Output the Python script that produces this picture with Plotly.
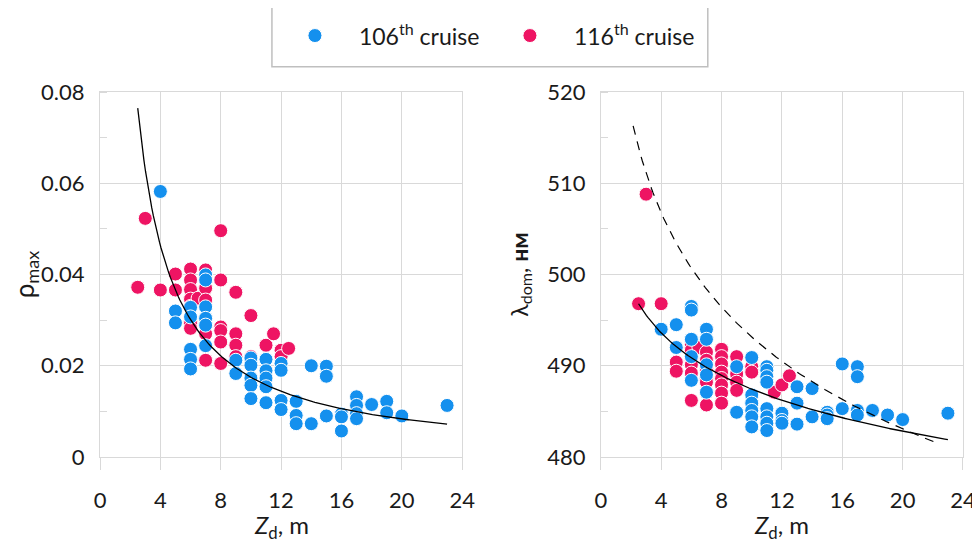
import numpy as np
import plotly.graph_objects as go

# ---------------- data ----------------
# Left panel: rho_max vs Zd
rho106_z = [4, 5, 5, 6, 6, 6, 6, 6, 7, 7, 7, 7, 7, 7, 9, 9, 10, 10, 10, 10, 10,
            11, 11, 11, 11, 11, 12, 12, 12, 12, 13, 13, 13, 14, 14, 15, 15, 15,
            16, 16, 16, 17, 17, 17, 17, 18, 19, 19, 20, 23]
rho106_v = [0.0582, 0.0320, 0.0294, 0.0328, 0.0307, 0.0236, 0.0214, 0.0193,
            0.0399, 0.0388, 0.0329, 0.0304, 0.0289, 0.0244, 0.0212, 0.0183,
            0.0217, 0.0201, 0.0173, 0.0157, 0.0128, 0.0214, 0.0189, 0.0173,
            0.0154, 0.0119, 0.0205, 0.0190, 0.0124, 0.0104, 0.0122, 0.0091,
            0.0073, 0.0200, 0.0073, 0.0199, 0.0177, 0.0090, 0.0094, 0.0088,
            0.0057, 0.0132, 0.0113, 0.0095, 0.0084, 0.0115, 0.0122, 0.0097,
            0.0090, 0.0113]
rho116_z = [2.5, 3, 4, 5, 5, 6, 6, 6, 6, 6, 6, 6, 6.5, 7, 7, 7, 7, 7, 7,
            8, 8, 8, 8, 8, 8, 9, 9, 9, 9, 10, 10, 11, 11.5, 12, 12, 12.5]
rho116_v = [0.0372, 0.0523, 0.0366, 0.0401, 0.0366, 0.0412, 0.0388, 0.0367,
            0.0346, 0.0330, 0.0293, 0.0282, 0.0348, 0.0410, 0.0388, 0.0370,
            0.0344, 0.0270, 0.0212, 0.0496, 0.0388, 0.0285, 0.0277, 0.0252,
            0.0205, 0.0361, 0.0270, 0.0245, 0.0220, 0.0310, 0.0220, 0.0245,
            0.0270, 0.0234, 0.0220, 0.0238]

# Right panel: lambda_dom vs Zd
lam106_z = [4, 5, 5, 6, 6, 6, 6, 6, 7, 7, 7, 7, 7, 9, 9, 10, 10, 10, 10, 10, 10,
            11, 11, 11, 11, 11, 11, 11, 11, 12, 12, 12, 13, 13, 13, 14, 14,
            15, 15, 15, 16, 16, 17, 17, 17, 17, 18, 19, 20, 23]
lam106_v = [494.0, 494.5, 492.0, 496.5, 496.1, 492.9, 491.0, 488.4, 494.0,
            492.9, 490.1, 489.0, 487.1, 489.9, 484.9, 490.9, 486.8, 485.9,
            485.1, 484.4, 483.3, 489.9, 489.5, 488.8, 488.2, 485.3, 484.4,
            483.7, 482.9, 484.8, 484.0, 483.7, 487.7, 485.9, 483.6, 487.5,
            484.4, 484.9, 484.6, 484.2, 490.2, 485.3, 489.9, 488.8, 485.1,
            484.6, 485.1, 484.6, 484.1, 484.8]
lam116_z = [2.5, 3, 4, 5, 5, 6, 6, 6, 6, 6, 6, 6.5, 7, 7, 7, 7, 7, 7,
            8, 8, 8, 8, 8, 8, 8, 8, 9, 9, 9, 9, 10, 10, 11.5, 12, 12.5]
lam116_v = [496.8, 508.8, 496.8, 490.4, 489.4, 492.3, 491.7, 490.8, 490.1,
            489.2, 486.2, 492.0, 491.5, 490.6, 489.5, 488.6, 488.2, 485.7,
            491.8, 491.0, 490.2, 489.3, 488.6, 487.9, 487.0, 485.9, 491.0,
            489.1, 488.2, 487.3, 489.9, 489.3, 487.1, 487.9, 488.9]

# Trend lines (power fits y = a * x^b)
fit_rho = dict(a=0.2029, b=-1.065, x0=2.5, x1=23)
fit_lam = dict(a=503.08, b=-0.01372, x0=2.5, x1=23)
fit_lam_dash = dict(a=528.1, b=-0.02974, x0=2.14, x1=22.4)

x_ticks = [0, 4, 8, 12, 16, 20, 24]
rho_ticks = [0, 0.02, 0.04, 0.06, 0.08]
rho_ticktext = ["0", "0.02", "0.04", "0.06", "0.08"]
lam_ticks = [480, 490, 500, 510, 520]

names = ["106<sup>th</sup> cruise", "116<sup>th</sup> cruise"]
x_title = "<i>Z</i><sub>d</sub>, m"

# ---------------- style ----------------
BLUE = "#1490EE"
PINK = "#EE1463"
GRID = "#d9d9d9"
FONT = "Lato"
TXT = "#1a1a1a"

OFF = 8  # page body margin in the browser
W, H = 980 - 2 * OFF, 551 - 2 * OFF
# plot-area edges in reference (page) pixels
L1, R1, L2, R2, TOP, BOT = 100, 462.3, 601, 963.3, 92.3, 456.7
ML, MT = L1 - OFF, TOP - OFF
MR, MB = W - (R2 - OFF), H - (BOT - OFF)
PW, PH = W - ML - MR, H - MT - MB


def px(x):
    return (x - OFF - ML) / PW


def py(y):
    return (BOT - y) / PH


def curve(p):
    x = np.linspace(p["x0"], p["x1"], 200)
    return x, p["a"] * x ** p["b"]


fig = go.Figure()

mk = lambda c: dict(color=c, size=14, line=dict(color="white", width=1))

# left panel
fig.add_trace(go.Scatter(x=rho116_z, y=rho116_v, mode="markers", marker=mk(PINK),
                         name=names[1], legendrank=2, xaxis="x", yaxis="y"))
fig.add_trace(go.Scatter(x=rho106_z, y=rho106_v, mode="markers", marker=mk(BLUE),
                         name=names[0], legendrank=1, xaxis="x", yaxis="y"))
cx, cy = curve(fit_rho)
fig.add_trace(go.Scatter(x=cx, y=cy, mode="lines", line=dict(color="black", width=1.3),
                         showlegend=False, xaxis="x", yaxis="y", hoverinfo="skip"))

# right panel
fig.add_trace(go.Scatter(x=lam116_z, y=lam116_v, mode="markers", marker=mk(PINK),
                         showlegend=False, xaxis="x2", yaxis="y2"))
fig.add_trace(go.Scatter(x=lam106_z, y=lam106_v, mode="markers", marker=mk(BLUE),
                         showlegend=False, xaxis="x2", yaxis="y2"))
cx, cy = curve(fit_lam)
fig.add_trace(go.Scatter(x=cx, y=cy, mode="lines", line=dict(color="black", width=1.3),
                         showlegend=False, xaxis="x2", yaxis="y2", hoverinfo="skip"))
cx, cy = curve(fit_lam_dash)
fig.add_trace(go.Scatter(x=cx, y=cy, mode="lines",
                         line=dict(color="black", width=1.2, dash="9px,7px"),
                         showlegend=False, xaxis="x2", yaxis="y2", hoverinfo="skip"))

xcommon = dict(range=[0, 24], tickvals=x_ticks, showgrid=True, gridcolor=GRID,
               gridwidth=1, showline=True, linecolor=GRID, linewidth=1, mirror=True,
               ticks="outside", ticklen=12, tickcolor=GRID, zeroline=False,
               automargin=False, ticklabelstandoff=12, ticklabeloverflow="allow",
               tickfont=dict(family=FONT, size=22, color=TXT))

ycommon = dict(showgrid=True, gridcolor=GRID, showline=True, linecolor=GRID,
               mirror=True, zeroline=False, ticks="", automargin=False,
               ticklabelstandoff=10,
               tickfont=dict(family=FONT, size=22, color=TXT))

title_font = dict(family=FONT, size=24, color=TXT)
annotations = [
    dict(text=x_title, xref="paper", yref="paper", x=(px(L1) + px(R1)) / 2,
         y=py(526), xanchor="center", yanchor="middle", showarrow=False,
         font=title_font),
    dict(text=x_title, xref="paper", yref="paper", x=(px(L2) + px(R2)) / 2,
         y=py(526), xanchor="center", yanchor="middle", showarrow=False,
         font=title_font),
]

fig.update_layout(
    width=W, height=H,
    margin=dict(l=ML, r=MR, t=MT, b=MB, autoexpand=False),
    paper_bgcolor="white", plot_bgcolor="white",
    showlegend=True,
    xaxis=dict(domain=[0, px(R1)], anchor="y", **xcommon),
    xaxis2=dict(domain=[px(L2), 1], anchor="y2", **xcommon),
    yaxis=dict(domain=[0, 1], anchor="x", range=[0, 0.08], tickvals=rho_ticks,
               ticktext=rho_ticktext,
               minor=dict(dtick=0.01, ticks="inside", ticklen=7, tickcolor=GRID,
                          showgrid=False),
               title=dict(text="ρ<sub>max</sub>", standoff=4,
                          font=dict(family=FONT, size=26, color=TXT)),
               **ycommon),
    yaxis2=dict(domain=[0, 1], anchor="x2", range=[480, 520], tickvals=lam_ticks,
                minor=dict(dtick=5, ticks="inside", ticklen=7, tickcolor=GRID,
                           showgrid=False),
                title=dict(text="λ<sub>dom</sub>, <b>нм</b>", standoff=12,
                           font=dict(family=FONT, size=23, color=TXT)),
                **ycommon),
    legend=dict(orientation="h", x=px(271), xanchor="left",
                y=py(36), yanchor="middle",
                bgcolor="rgba(0,0,0,0)", borderwidth=0,
                itemwidth=78, entrywidth=122, traceorder="normal",
                font=dict(family=FONT, size=23, color=TXT)),
    annotations=annotations,
    shapes=[dict(type="rect", xref="paper", yref="paper",
                 x0=px(272), x1=px(708), y0=py(67), y1=py(5),
                 line=dict(color="#bfbfbf", width=1.5), fillcolor="rgba(0,0,0,0)")],
)

fig.write_html("out.html")
